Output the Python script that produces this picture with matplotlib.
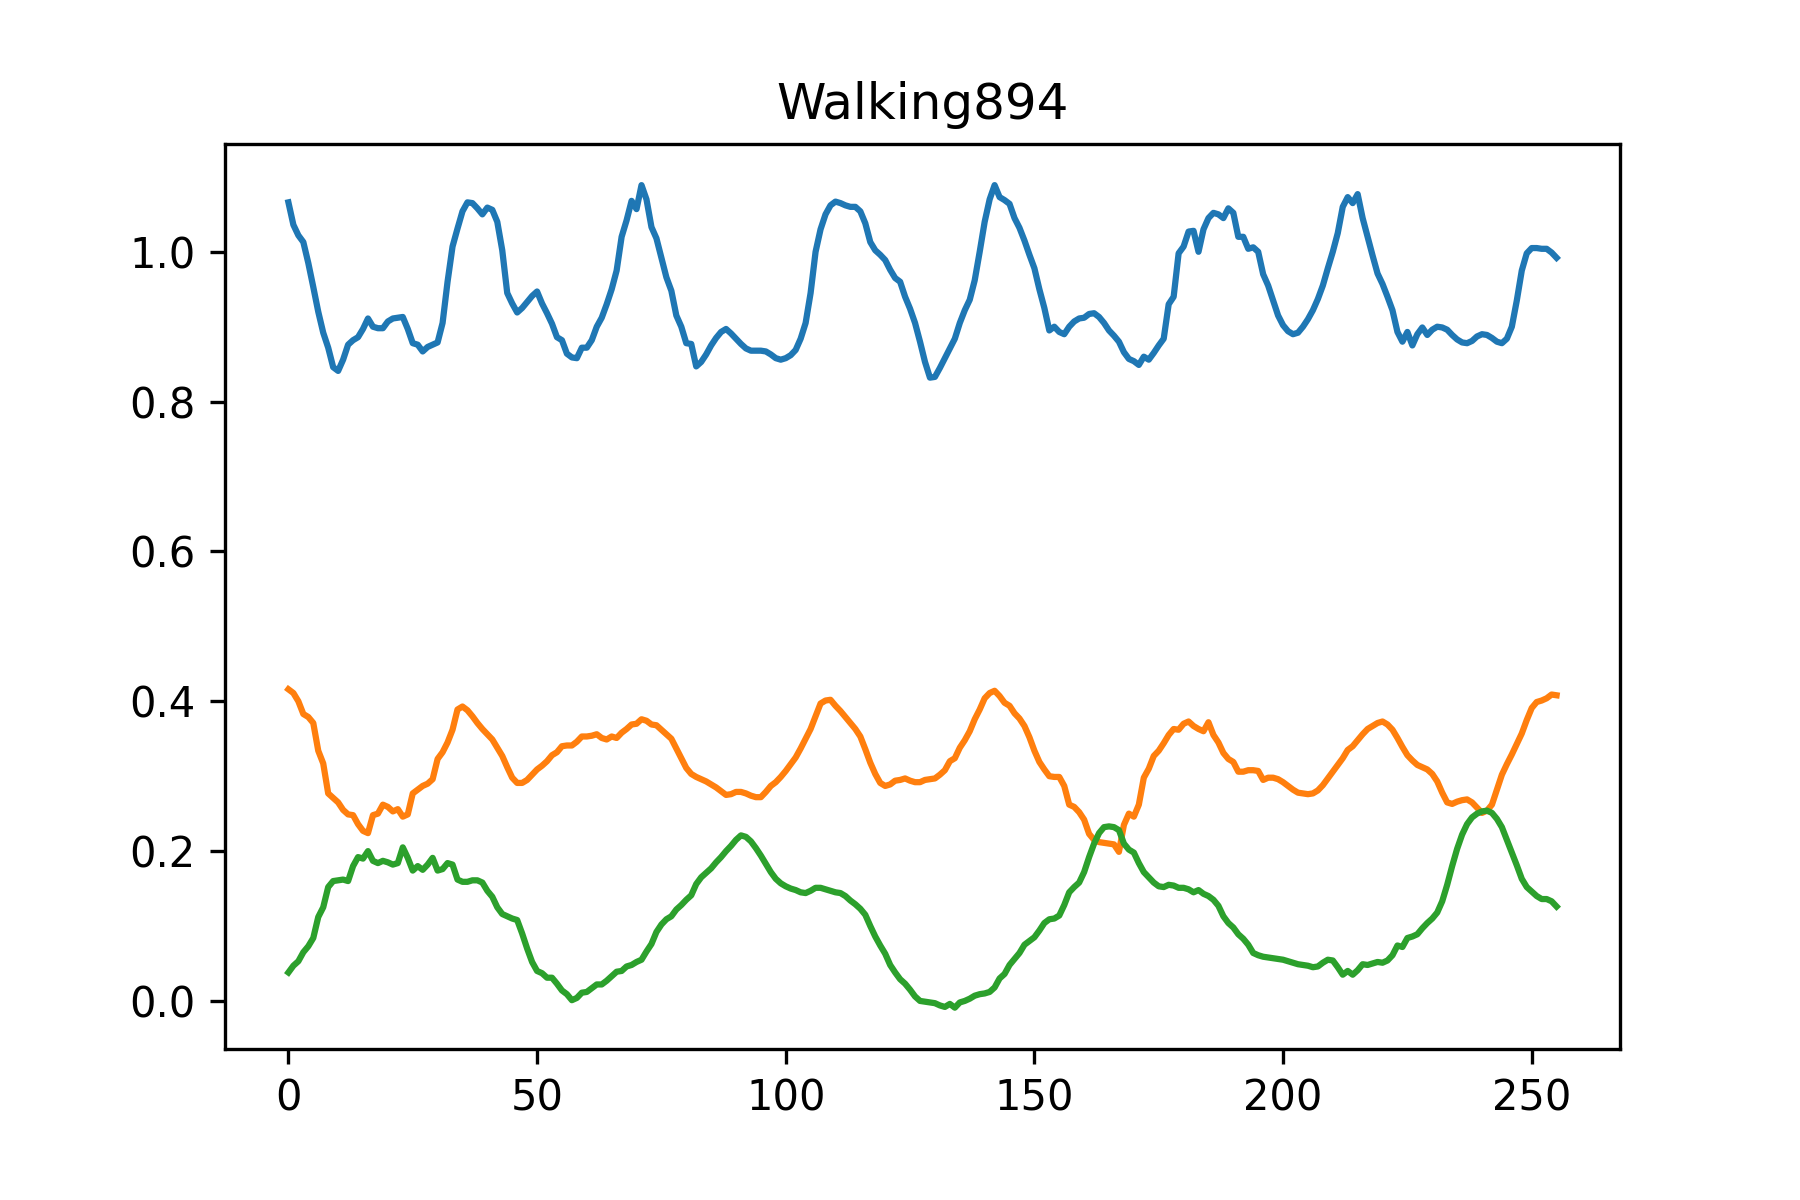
import numpy as np
import matplotlib
matplotlib.use("Agg")
import matplotlib.pyplot as plt

# Values, one per frame (0..255)
blue = [
    1.066, 1.036, 1.022, 1.013, 0.985, 0.953, 0.920, 0.892, 0.872, 0.846,
    0.841, 0.856, 0.876, 0.882, 0.886, 0.897, 0.911, 0.900, 0.898, 0.898,
    0.907, 0.911, 0.912, 0.913, 0.897, 0.878, 0.876, 0.867, 0.873, 0.876,
    0.879, 0.905, 0.960, 1.007, 1.031, 1.054, 1.066, 1.065, 1.058, 1.050,
    1.059, 1.056, 1.040, 1.002, 0.945, 0.931, 0.919, 0.925, 0.933, 0.941,
    0.947, 0.931, 0.918, 0.904, 0.886, 0.882, 0.864, 0.859, 0.858, 0.872,
    0.872, 0.882, 0.900, 0.912, 0.930, 0.950, 0.975, 1.020, 1.042, 1.068,
    1.057, 1.089, 1.070, 1.033, 1.018, 0.992, 0.966, 0.948, 0.915, 0.900,
    0.878, 0.877, 0.847, 0.853, 0.863, 0.875, 0.885, 0.893, 0.897, 0.891,
    0.884, 0.877, 0.871, 0.868, 0.868, 0.868, 0.867, 0.863, 0.858, 0.856,
    0.858, 0.862, 0.869, 0.884, 0.905, 0.945, 1.000, 1.030, 1.050, 1.062,
    1.067, 1.065, 1.062, 1.060, 1.060, 1.054, 1.038, 1.013, 1.002, 0.996,
    0.989, 0.976, 0.965, 0.960, 0.940, 0.924, 0.905, 0.880, 0.853,
    0.832, 0.833, 0.845, 0.858, 0.871, 0.884, 0.905, 0.922, 0.936, 0.962,
    1.000, 1.040, 1.070, 1.089, 1.073, 1.069, 1.064, 1.045, 1.032, 1.015,
    0.996, 0.978, 0.950, 0.925, 0.895, 0.900, 0.893, 0.890, 0.900, 0.907,
    0.911, 0.912, 0.917, 0.918, 0.913, 0.905, 0.895, 0.888, 0.880, 0.866,
    0.857, 0.854, 0.849, 0.860, 0.856, 0.865, 0.875, 0.884, 0.930, 0.940,
    0.998, 1.007, 1.027, 1.028, 1.000, 1.030, 1.045, 1.052, 1.050, 1.045,
    1.058, 1.052, 1.020, 1.020, 1.004, 1.006, 1.000, 0.970, 0.955, 0.935,
    0.915, 0.902, 0.894, 0.890, 0.892, 0.900, 0.910, 0.922, 0.937, 0.955,
    0.978, 1.000, 1.025, 1.060, 1.073, 1.065, 1.077, 1.045, 1.020, 0.995,
    0.971, 0.957, 0.940, 0.922, 0.893, 0.880, 0.893, 0.875, 0.890, 0.899,
    0.889, 0.896, 0.900, 0.899, 0.896, 0.889, 0.883, 0.879, 0.878, 0.881,
    0.887, 0.890, 0.889, 0.885, 0.880, 0.878, 0.884, 0.900, 0.935, 0.975,
    0.998, 1.005, 1.005, 1.004, 1.004, 0.999, 0.992,
]

orange = [
    0.416, 0.411, 0.400, 0.383, 0.379, 0.371, 0.334, 0.317, 0.277, 0.271,
    0.265, 0.255, 0.249, 0.248, 0.236, 0.227, 0.224, 0.248, 0.250, 0.262,
    0.259, 0.253, 0.256, 0.246, 0.249, 0.277, 0.282, 0.287, 0.290, 0.296,
    0.323, 0.332, 0.345, 0.362, 0.389, 0.393, 0.388, 0.380, 0.371, 0.363,
    0.356, 0.349, 0.338, 0.327, 0.312, 0.298, 0.291, 0.291, 0.295, 0.302,
    0.309, 0.314, 0.320, 0.328, 0.332, 0.340, 0.341, 0.341, 0.346, 0.353,
    0.353, 0.354, 0.356, 0.351, 0.349, 0.353, 0.351, 0.358, 0.363, 0.369,
    0.370, 0.376, 0.374, 0.369, 0.368, 0.362, 0.356, 0.350, 0.337, 0.324,
    0.311, 0.303, 0.299, 0.296, 0.293, 0.289, 0.285, 0.280, 0.275, 0.276,
    0.279, 0.279, 0.277, 0.274, 0.272, 0.272, 0.279, 0.287, 0.292, 0.299,
    0.307, 0.316, 0.325, 0.337, 0.350, 0.363, 0.380, 0.397, 0.401, 0.402,
    0.394, 0.387, 0.379, 0.371, 0.363, 0.353, 0.336, 0.318, 0.303, 0.291,
    0.287, 0.289, 0.294, 0.295, 0.297, 0.294, 0.292, 0.292, 0.295,
    0.296, 0.297, 0.302, 0.308, 0.320, 0.324, 0.338, 0.348, 0.360, 0.376,
    0.389, 0.404, 0.411, 0.414, 0.407, 0.398, 0.394, 0.384, 0.377, 0.367,
    0.352, 0.334, 0.319, 0.309, 0.300, 0.299, 0.299, 0.287, 0.262, 0.259,
    0.252, 0.242, 0.223, 0.215, 0.212, 0.211, 0.210, 0.209, 0.199, 0.235,
    0.250, 0.246, 0.262, 0.298, 0.310, 0.327, 0.334, 0.344, 0.355, 0.363,
    0.362, 0.370, 0.373, 0.367, 0.363, 0.360, 0.372, 0.355, 0.345, 0.331,
    0.323, 0.319, 0.306, 0.306, 0.308, 0.308, 0.307, 0.295, 0.298, 0.298,
    0.296, 0.292, 0.287, 0.282, 0.278, 0.277, 0.276, 0.277, 0.281, 0.288,
    0.297, 0.306, 0.315, 0.324, 0.335, 0.340, 0.348, 0.356, 0.363, 0.367,
    0.371, 0.373, 0.369, 0.362, 0.351, 0.339, 0.328, 0.321, 0.315, 0.312,
    0.309, 0.303, 0.293, 0.278, 0.265, 0.263, 0.266, 0.268, 0.269, 0.265,
    0.258, 0.251, 0.254, 0.262, 0.282, 0.302, 0.316, 0.329, 0.343, 0.357,
    0.375, 0.391, 0.399, 0.401, 0.404, 0.409, 0.408,
]

green = [
    0.038, 0.047, 0.053, 0.065, 0.073, 0.084, 0.112, 0.125, 0.152, 0.160,
    0.161, 0.162, 0.160, 0.180, 0.192, 0.190, 0.200, 0.187, 0.184, 0.187,
    0.185, 0.182, 0.184, 0.205, 0.191, 0.174, 0.180, 0.175, 0.182, 0.191,
    0.174, 0.176, 0.184, 0.182, 0.162, 0.159, 0.159, 0.161, 0.161, 0.158,
    0.147, 0.139, 0.125, 0.116, 0.113, 0.110, 0.108, 0.090, 0.070, 0.052,
    0.040, 0.037, 0.031, 0.031, 0.023, 0.014, 0.009, 0.001, 0.004, 0.011,
    0.012, 0.017, 0.022, 0.022, 0.027, 0.033, 0.039, 0.040, 0.046, 0.048,
    0.052, 0.055, 0.066, 0.076, 0.092, 0.102, 0.109, 0.113, 0.122, 0.128,
    0.135, 0.141, 0.156, 0.165, 0.171, 0.177, 0.185, 0.192, 0.200, 0.207,
    0.215, 0.221, 0.219, 0.213, 0.204, 0.194, 0.183, 0.172, 0.163, 0.157,
    0.153, 0.150, 0.148, 0.145, 0.144, 0.147, 0.151, 0.151, 0.149, 0.147,
    0.145, 0.144, 0.140, 0.134, 0.129, 0.123, 0.115, 0.100, 0.086, 0.074,
    0.063, 0.048, 0.038, 0.029, 0.023, 0.015, 0.006, 0.000, -0.001,
    -0.002, -0.003, -0.006, -0.008, -0.004, -0.009, -0.002, 0.000, 0.003, 0.007,
    0.009, 0.010, 0.012, 0.018, 0.030, 0.036, 0.048, 0.056, 0.064, 0.075,
    0.080, 0.085, 0.094, 0.104, 0.109, 0.110, 0.114, 0.128, 0.145, 0.152,
    0.158, 0.172, 0.192, 0.210, 0.224, 0.232, 0.233, 0.232, 0.228, 0.210,
    0.202, 0.198, 0.184, 0.172, 0.165, 0.158, 0.153, 0.152, 0.155, 0.154,
    0.151, 0.151, 0.149, 0.145, 0.148, 0.143, 0.140, 0.135, 0.127, 0.113,
    0.104, 0.098, 0.089, 0.083, 0.075, 0.064, 0.061, 0.059, 0.058, 0.057,
    0.056, 0.055, 0.053, 0.051, 0.049, 0.048, 0.047, 0.045, 0.046, 0.051,
    0.055, 0.054, 0.045, 0.035, 0.040, 0.035, 0.041, 0.049, 0.048, 0.050,
    0.052, 0.051, 0.054, 0.061, 0.074, 0.072, 0.084, 0.086, 0.089, 0.097,
    0.104, 0.110, 0.118, 0.133, 0.155, 0.180, 0.203, 0.222, 0.236, 0.245,
    0.250, 0.253, 0.254, 0.251, 0.243, 0.232, 0.215, 0.198, 0.181, 0.163,
    0.152, 0.146, 0.140, 0.136, 0.136, 0.133, 0.126,
]

title = "Walking894"

fig, ax = plt.subplots(figsize=(6, 4), dpi=300)
fig.subplots_adjust(left=0.125, right=0.9, top=0.88, bottom=0.126)

frames = np.arange(len(blue))
ax.plot(frames, blue)
ax.plot(frames, orange)
ax.plot(frames, green)

ax.set_title(title)

fig.savefig("out.png", dpi=300)
